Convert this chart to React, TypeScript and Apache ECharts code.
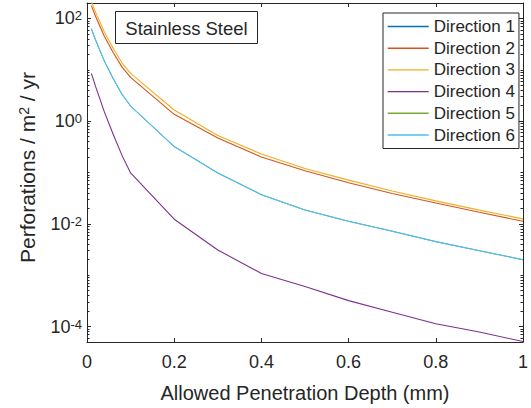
import React, { useEffect, useRef } from "react";
import * as echarts from "echarts";

const depths = [0.01, 0.02, 0.04, 0.06, 0.08, 0.1, 0.2, 0.3, 0.4, 0.5, 0.6, 0.7, 0.8, 0.9, 1.0];

const direction1 = [63, 37.5, 14.6, 6.8, 3.35, 1.97, 0.32, 0.098, 0.037, 0.0186, 0.0112, 0.0072, 0.0045, 0.003, 0.002];
const direction2 = [178, 108, 44.7, 21.8, 11.4, 7.1, 1.36, 0.47, 0.2, 0.108, 0.063, 0.039, 0.0255, 0.0168, 0.0112];
const direction3 = [214, 130, 53.7, 26.2, 13.7, 8.5, 1.65, 0.525, 0.23, 0.12, 0.071, 0.0435, 0.028, 0.0185, 0.0125];
const direction4 = [8.5, 4.64, 1.5, 0.556, 0.218, 0.098, 0.0123, 0.0031, 0.00108, 0.0006, 0.00032, 0.00019, 0.000113, 0.000078, 0.000051];
const direction5 = [63, 37.5, 14.6, 6.8, 3.35, 1.97, 0.32, 0.098, 0.037, 0.0186, 0.0112, 0.0072, 0.0045, 0.003, 0.002];
const direction6 = [63, 37.5, 14.6, 6.8, 3.35, 1.97, 0.32, 0.098, 0.037, 0.0186, 0.0112, 0.0072, 0.0045, 0.003, 0.002];

const seriesNames = ["Direction 1", "Direction 2", "Direction 3", "Direction 4", "Direction 5", "Direction 6"];
const seriesColors = ["#0072BD", "#D95319", "#EDB120", "#7E2F8E", "#77AC30", "#4DBEEE"];
const seriesWidths = [0.5, 1.1, 1.1, 1.1, 0.5, 1.1];

const yMajorTicks = [1e-4, 1e-2, 1, 100];
const yDecades = [-5, -4, -3, -2, -1, 0, 1, 2];
const yMin = 5e-5;
const yMax = 200;

const xTitle = "Allowed Penetration Depth (mm)";
const yTitle = "{b|Perforations / m}{s|2}{b| / yr}";
const boxLabel = "Stainless Steel";

const FONT = "'Liberation Sans', Arial, Helvetica, sans-serif";
const INK = "#262626";

export default function App() {
  const ref = useRef<HTMLDivElement>(null);

  useEffect(() => {
    if (!ref.current) return;
    const chart = echarts.init(ref.current, undefined, { renderer: "svg" });

    const minorTicks: number[] = [];
    yDecades.forEach((k) => {
      for (let m = 1; m <= 9; m++) {
        const v = m * Math.pow(10, k);
        if (v >= yMin && v <= yMax && !(m === 1 && k % 2 === 0)) minorTicks.push(Number(v.toPrecision(3)));
      }
    });

    const allData = [direction1, direction2, direction3, direction4, direction5, direction6];

    const supRich = {
      b: { fontSize: 18, lineHeight: 18, verticalAlign: "middle", color: INK, fontFamily: FONT },
      s: { fontSize: 13, lineHeight: 13, verticalAlign: "top", padding: [0, 0, 19, 0], color: INK, fontFamily: FONT },
    };

    const baseY = {
      type: "log",
      logBase: 10,
      min: yMin,
      max: yMax,
      splitLine: { show: false },
    };

    chart.setOption({
      animation: false,
      backgroundColor: "#ffffff",
      grid: { left: 87, right: 3, top: 3, bottom: 65, containLabel: false },
      legend: {
        orient: "vertical",
        left: 383,
        top: 13,
        itemWidth: 41,
        itemHeight: 14,
        itemGap: 4.7,
        padding: [5, 4, 5, 4],
        borderColor: INK,
        borderWidth: 1,
        backgroundColor: "#ffffff",
        selectedMode: false,
        itemStyle: { opacity: 0, borderWidth: 0 },
        lineStyle: { width: 1.4 },
        textStyle: { fontSize: 17, lineHeight: 17, color: INK, fontFamily: FONT },
        data: seriesNames,
      },
      xAxis: [
        {
          type: "value",
          min: 0,
          max: 1,
          interval: 0.2,
          position: "bottom",
          name: xTitle,
          nameLocation: "middle",
          nameGap: 41,
          nameTextStyle: { fontSize: 20, lineHeight: 20, color: INK, fontFamily: FONT },
          axisLine: { show: true, lineStyle: { color: INK, width: 1 } },
          axisTick: { show: true, inside: true, length: 4, lineStyle: { color: INK } },
          axisLabel: { fontSize: 18, lineHeight: 18, margin: 11, color: INK, fontFamily: FONT, hideOverlap: false },
          splitLine: { show: false },
        },
        {
          type: "value",
          min: 0,
          max: 1,
          interval: 0.2,
          position: "top",
          axisLine: { show: true, lineStyle: { color: INK, width: 1 } },
          axisTick: { show: true, inside: true, length: 4, lineStyle: { color: INK } },
          axisLabel: { show: false },
          splitLine: { show: false },
        },
      ],
      yAxis: [
        {
          ...baseY,
          position: "left",
          axisLine: { show: true, lineStyle: { color: INK, width: 1 } },
          axisTick: { show: true, inside: true, length: 4, customValues: yMajorTicks, lineStyle: { color: INK } },
          axisLabel: {
            customValues: yMajorTicks,
            margin: 5,
            formatter: (v: number) => `{b|10}{s|${Math.round(Math.log10(v))}}`,
            rich: supRich,
          },
        },
        {
          ...baseY,
          position: "left",
          axisLine: { show: false },
          axisTick: { show: true, inside: true, length: 2.5, customValues: minorTicks, lineStyle: { color: INK } },
          axisLabel: { show: false },
        },
        {
          ...baseY,
          position: "right",
          axisLine: { show: true, lineStyle: { color: INK, width: 1 } },
          axisTick: { show: true, inside: true, length: 4, customValues: yMajorTicks, lineStyle: { color: INK } },
          axisLabel: { show: false },
        },
        {
          ...baseY,
          position: "right",
          axisLine: { show: false },
          axisTick: { show: true, inside: true, length: 2.5, customValues: minorTicks, lineStyle: { color: INK } },
          axisLabel: { show: false },
        },
      ],
      graphic: [
        {
          type: "text",
          x: 27,
          y: 167.5,
          rotation: Math.PI / 2,
          style: {
            text: yTitle,
            align: "center",
            verticalAlign: "middle",
            fill: INK,
            fontFamily: FONT,
            rich: {
              b: { fontSize: 21, lineHeight: 21, verticalAlign: "middle", fill: INK, fontFamily: FONT },
              s: { fontSize: 14, lineHeight: 14, verticalAlign: "top", padding: [0, 0, 20, 0], fill: INK, fontFamily: FONT },
            },
          },
        },
        {
          type: "group",
          left: 115,
          top: 11,
          children: [
            {
              type: "rect",
              shape: { x: 0, y: 0, width: 142, height: 32 },
              style: { fill: "#ffffff", stroke: INK, lineWidth: 1 },
            },
            {
              type: "text",
              x: 71,
              y: 16.5,
              style: {
                text: boxLabel,
                fontSize: 18.5,
                fontFamily: FONT,
                fill: INK,
                align: "center",
                verticalAlign: "middle",
              },
            },
          ],
        },
      ],
      series: seriesNames.map((name, i) => ({
        name,
        type: "line",
        xAxisIndex: 0,
        yAxisIndex: 0,
        symbol: "none",
        smooth: false,
        clip: true,
        color: seriesColors[i],
        lineStyle: { width: seriesWidths[i], color: seriesColors[i] },
        data: depths.map((d, j) => [d, allData[i][j]]),
      })),
    });

    return () => chart.dispose();
  }, []);

  return <div ref={ref} style={{ position: "fixed", left: 0, top: 0, width: 531, height: 408 }} />;
}
